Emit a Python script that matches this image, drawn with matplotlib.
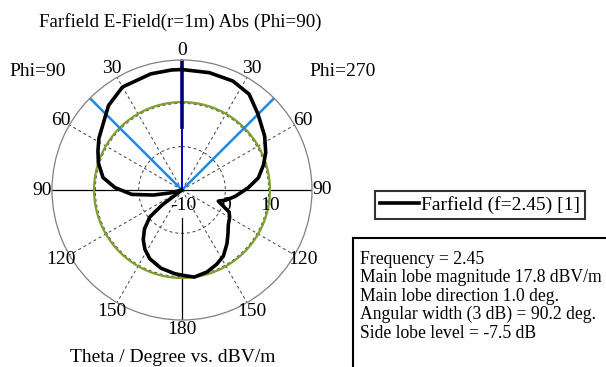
import numpy as np
import matplotlib
matplotlib.use("Agg")
import matplotlib.pyplot as plt
from matplotlib.lines import Line2D
from matplotlib.patches import Rectangle

plt.rcParams["font.family"] = ["Liberation Serif", "DejaVu Serif"]

# farfield pattern, plot angle clockwise from top (right half = Phi=270, left half = Phi=90)
angle_deg = [0, 13, 25, 35, 45, 57, 66, 73, 81, 88, 97, 103, 107, 110, 115, 120,
             127, 133, 140, 148, 155, 163, 172, 179, 185, 195, 205, 212, 218, 224,
             230, 233, 236, 245, 254, 256, 260, 265, 272, 279, 288, 295, 302, 315,
             319, 330, 345, 355, 360]
level_db = [17.8, 17.8, 17.75, 17.0, 14.8, 12.75, 11.15, 9.65, 7.83, 5.3, 2.32, 0.38,
            -1.23, -0.31, 2.0, 2.69, 3.38, 4.53, 6.15, 8.0, 8.92, 9.77, 10.3, 9.72,
            9.38, 8.69, 7.53, 6.15, 4.53, 2.46, -0.31, -4.23, -10, -10, -10, -7.23,
            -3.31, 1.65, 5.46, 8.46, 10.3, 11.4, 12.6, 14.8, 15.84, 17.45, 17.75,
            17.8, 17.8]

r_min, r_max = -10, 20
r_grid = [0, 10]
side_lobe_ref = 10.3           # main lobe 17.8 - 7.5 dB
main_dir = 0.0
beam_edges = [45.1, 360 - 45.1]

angle_ticks = [0, 30, 60, 90, 120, 150, 180, 210, 240, 270, 300, 330]
angle_labels = ["0", "30", "60", "90", "120", "150", "180", "150", "120", "90", "60", "30"]

info_lines = ["Frequency = 2.45",
              "Main lobe magnitude 17.8 dBV/m",
              "Main lobe direction 1.0 deg.",
              "Angular width (3 dB) = 90.2 deg.",
              "Side lobe level = -7.5 dB"]

FS = 14
W, H = 606, 367
fig = plt.figure(figsize=(W / 100, H / 100), dpi=100)
cx, cy, R = 182, 190, 130
ax = fig.add_axes([(cx - R) / W, 1 - (cy + R) / H, 2 * R / W, 2 * R / H], projection="polar")
ax.set_theta_zero_location("N")
ax.set_theta_direction(-1)
ax.set_rlim(r_min, r_max)
ax.set_xticks([])
ax.set_yticks([])
ax.grid(False)
ax.spines["polar"].set_color("#808080")
ax.spines["polar"].set_linewidth(0.9)

th_full = np.linspace(0, 2 * np.pi, 361)
# dashed grid
for rg in r_grid:
    ax.plot(th_full, np.full_like(th_full, rg), ls=(0, (3, 3)), color="#404040", lw=0.7)
for a in angle_ticks:
    if a % 90:
        ax.plot([np.deg2rad(a)] * 2, [r_min, r_max], ls=(0, (3, 3)), color="#404040", lw=0.7)

# solid axis lines
ax.plot([np.pi / 2] * 2, [r_min, r_max], color="black", lw=0.9)
ax.plot([3 * np.pi / 2] * 2, [r_min, r_max], color="black", lw=0.9)
ax.plot([np.pi] * 2, [-3.5, r_max], color="black", lw=0.9)

# side lobe reference circle
ax.plot(th_full, np.full_like(th_full, side_lobe_ref), color="#7f9f2f", lw=1.6)

# beam width lines and main lobe direction
for b in beam_edges:
    ax.plot([np.deg2rad(b)] * 2, [r_min, r_max], color="#1e88e5", lw=1.8)
ax.plot([np.deg2rad(main_dir)] * 2, [r_min, 4.5], color="#0000cc", lw=1.4)
ax.plot([np.deg2rad(main_dir)] * 2, [4.5, r_max], color="#00007a", lw=2.6)

# pattern
ax.plot(np.deg2rad(angle_deg), np.clip(level_db, r_min, None), color="black", lw=2.6,
        solid_joinstyle="round", zorder=5)

# angle labels
for a, lab in zip(angle_ticks, angle_labels):
    ax.text(np.deg2rad(a), 22.3, lab, ha="center", va="center", fontsize=FS, clip_on=False)

# radial labels
for rv in [r_min] + r_grid:
    ax.annotate(str(rv), xy=(np.pi / 2, rv), xytext=(1, -16), textcoords="offset pixels",
                ha="center", va="center", fontsize=FS, annotation_clip=False, zorder=6)

fig.text(180 / W, 1 - 22 / H, "Farfield E-Field(r=1m) Abs (Phi=90)", ha="center", va="center", fontsize=13.7)
fig.text(38 / W, 1 - 72 / H, "Phi=90", ha="center", va="center", fontsize=FS)
fig.text(343 / W, 1 - 72 / H, "Phi=270", ha="center", va="center", fontsize=FS)
fig.text(173 / W, 1 - 358 / H, "Theta / Degree vs. dBV/m", ha="center", va="center", fontsize=FS)

# legend
leg = fig.legend(handles=[Line2D([], [], color="black", lw=2.6)],
                 labels=["Farfield (f=2.45) [1]"], loc="center",
                 bbox_to_anchor=(480 / W, 1 - 205 / H), fontsize=FS, frameon=True,
                 fancybox=False, handlelength=2.0, handletextpad=0.1, borderpad=0.25,
                 borderaxespad=0)
leg.get_frame().set_edgecolor("black")
leg.get_frame().set_linewidth(1.5)

# info box
fig.patches.append(Rectangle((353 / W, 1 - 400 / H), 300 / W, 162 / H, transform=fig.transFigure,
                             fill=False, edgecolor="black", lw=1.5, clip_on=False))
fig.text(360 / W, 1 - 251 / H, "\n".join(info_lines), ha="left", va="top", fontsize=12.7,
         linespacing=1.1)

fig.savefig("out.png", dpi=100)
